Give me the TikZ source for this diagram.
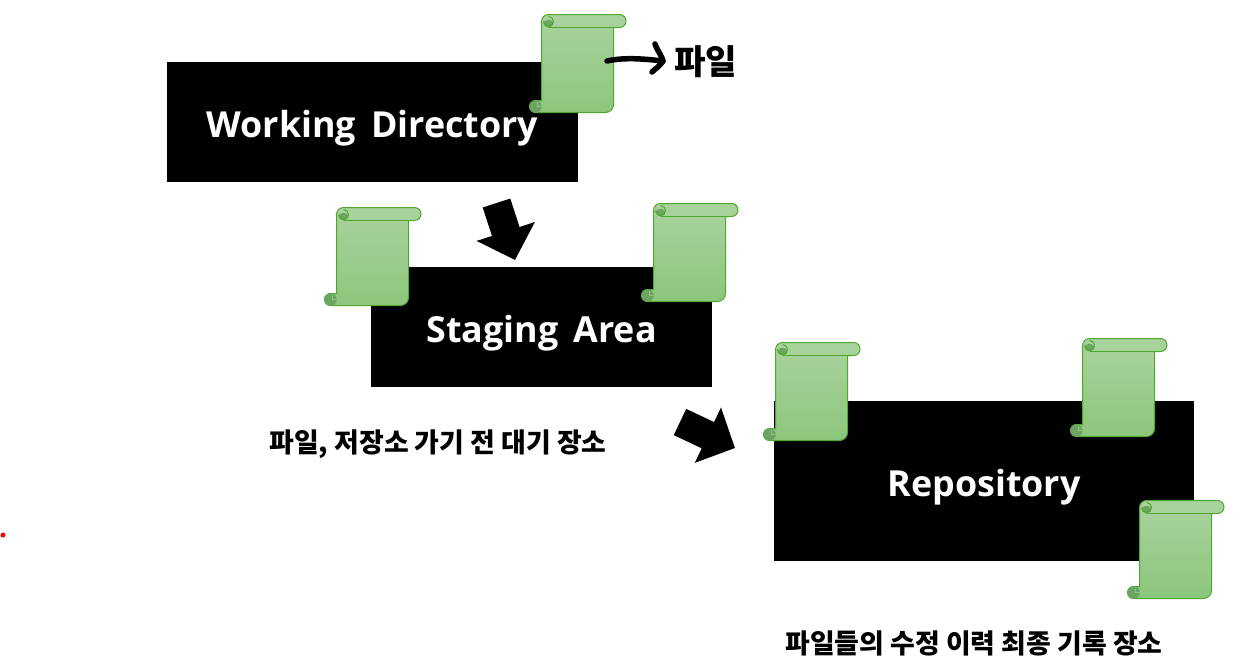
\documentclass[tikz,border=0pt]{standalone}
\usepackage{fontspec}
\setmainfont{Open Sans}
\newfontfamily\krfont{Noto Sans CJK KR}
\usetikzlibrary{positioning,arrows.meta,calc}
\definecolor{cScrollTop}{HTML}{A9D39E}
\definecolor{cScrollBot}{HTML}{8CC67C}
\definecolor{cScrollEdge}{HTML}{4EA72E}
\definecolor{cScrollCurl}{HTML}{6CA562}

\begin{document}
\begin{tikzpicture}[
    x=0.2mm, y=-0.2mm,
    areabox/.style={fill=black, text=white, font=\fontsize{20.4}{24}\selectfont\bfseries, inner sep=0pt, outer sep=0pt, text height=6mm, text depth=0pt, align=center},
    krlabel/.style={font=\krfont\fontsize{15.3}{18}\selectfont\bfseries, inner sep=0pt, text=black},
    blockarr/.style={line width=5.8mm, black, -{Triangle[length=6mm, width=11.9mm]}},
    handarr/.style={line width=1.1mm, line cap=round, line join=round, black},
    pics/scrollfile/.style={code={
        \draw[cScrollEdge, line width=0.2mm, top color=cScrollTop, bottom color=cScrollBot]
            (0,7) -- (0,86) -- (-6,86) arc[start angle=90, end angle=270, radius=1.2mm]
            -- (64,98) arc[start angle=-90, end angle=0, radius=1.6mm]
            -- (72,13) -- (78,13) arc[start angle=-90, end angle=90, radius=1.3mm]
            -- (7,0) arc[start angle=90, end angle=180, radius=1.4mm] -- cycle;
        \draw[cScrollEdge, line width=0.2mm] (7,13) -- (72,13);
        \fill[cScrollCurl] (2,8) arc[start angle=180, end angle=360, radius=1mm]
            .. controls (9,4) and (4,5) .. cycle;
        \draw[cScrollEdge, line width=0.2mm] (7,2) arc[start angle=90, end angle=-180, radius=1mm];
        \fill[cScrollCurl] (-6,92) circle[radius=1.25mm];
        \draw[cScrollBot, line width=0.2mm] (-4,87) -- (-4,92) -- (0,92);
    }}
]
\useasboundingbox (0,0) rectangle (1256,670);

\node[areabox, minimum width=82.2mm, minimum height=24mm, anchor=north west] (workdir) at (167,62) {Working\, Directory};
\node[areabox, minimum width=68.2mm, minimum height=24mm, anchor=north west] (staging) at ([xshift=-41.4mm,yshift=-17mm]workdir.south east) {Staging\, Area};
\node[areabox, minimum width=84mm, minimum height=32mm, anchor=north west] (repo) at ([xshift=12.4mm,yshift=-2.8mm]staging.south east) {Repository};

\pic at (541.5,14.5) {scrollfile};
\pic at (336.5,207.5) {scrollfile};
\pic at (653.5,203.5) {scrollfile};
\pic at (775.5,342.5) {scrollfile};
\pic at (1082.5,338.5) {scrollfile};
\pic at (1139.5,500.5) {scrollfile};

\node[krlabel, font=\krfont\fontsize{19.5}{23}\selectfont\bfseries, anchor=west] (filelabel) at (674,62) {파일};
\node[krlabel, anchor=center] (staginglabel) at (438,444) {파일, 저장소 가기 전 대기 장소};
\node[krlabel, anchor=center] (repolabel) at (974,643) {파일들의 수정 이력 최종 기록 장소};
\node[circle, fill=red, inner sep=0pt, minimum size=1mm] (reddot) at (3,535) {};

\coordinate (handstart) at (607,61);
\coordinate (handtip) at (663,61);
\coordinate (wdout) at (496.5,203);
\coordinate (stin) at (515,260);
\coordinate (stout) at (680,422);
\coordinate (repoin) at (735,448);

\draw[blockarr] (wdout) -- (stin);
\draw[blockarr] (stout) -- (repoin);
\draw[handarr] (handstart) .. controls (625,57) and (645,59) .. (handtip);
\draw[handarr] (655,44) .. controls (658,52) and (662,56) .. (handtip) .. controls (660,66) and (655,69) .. (652,72);
\end{tikzpicture}
\end{document}
